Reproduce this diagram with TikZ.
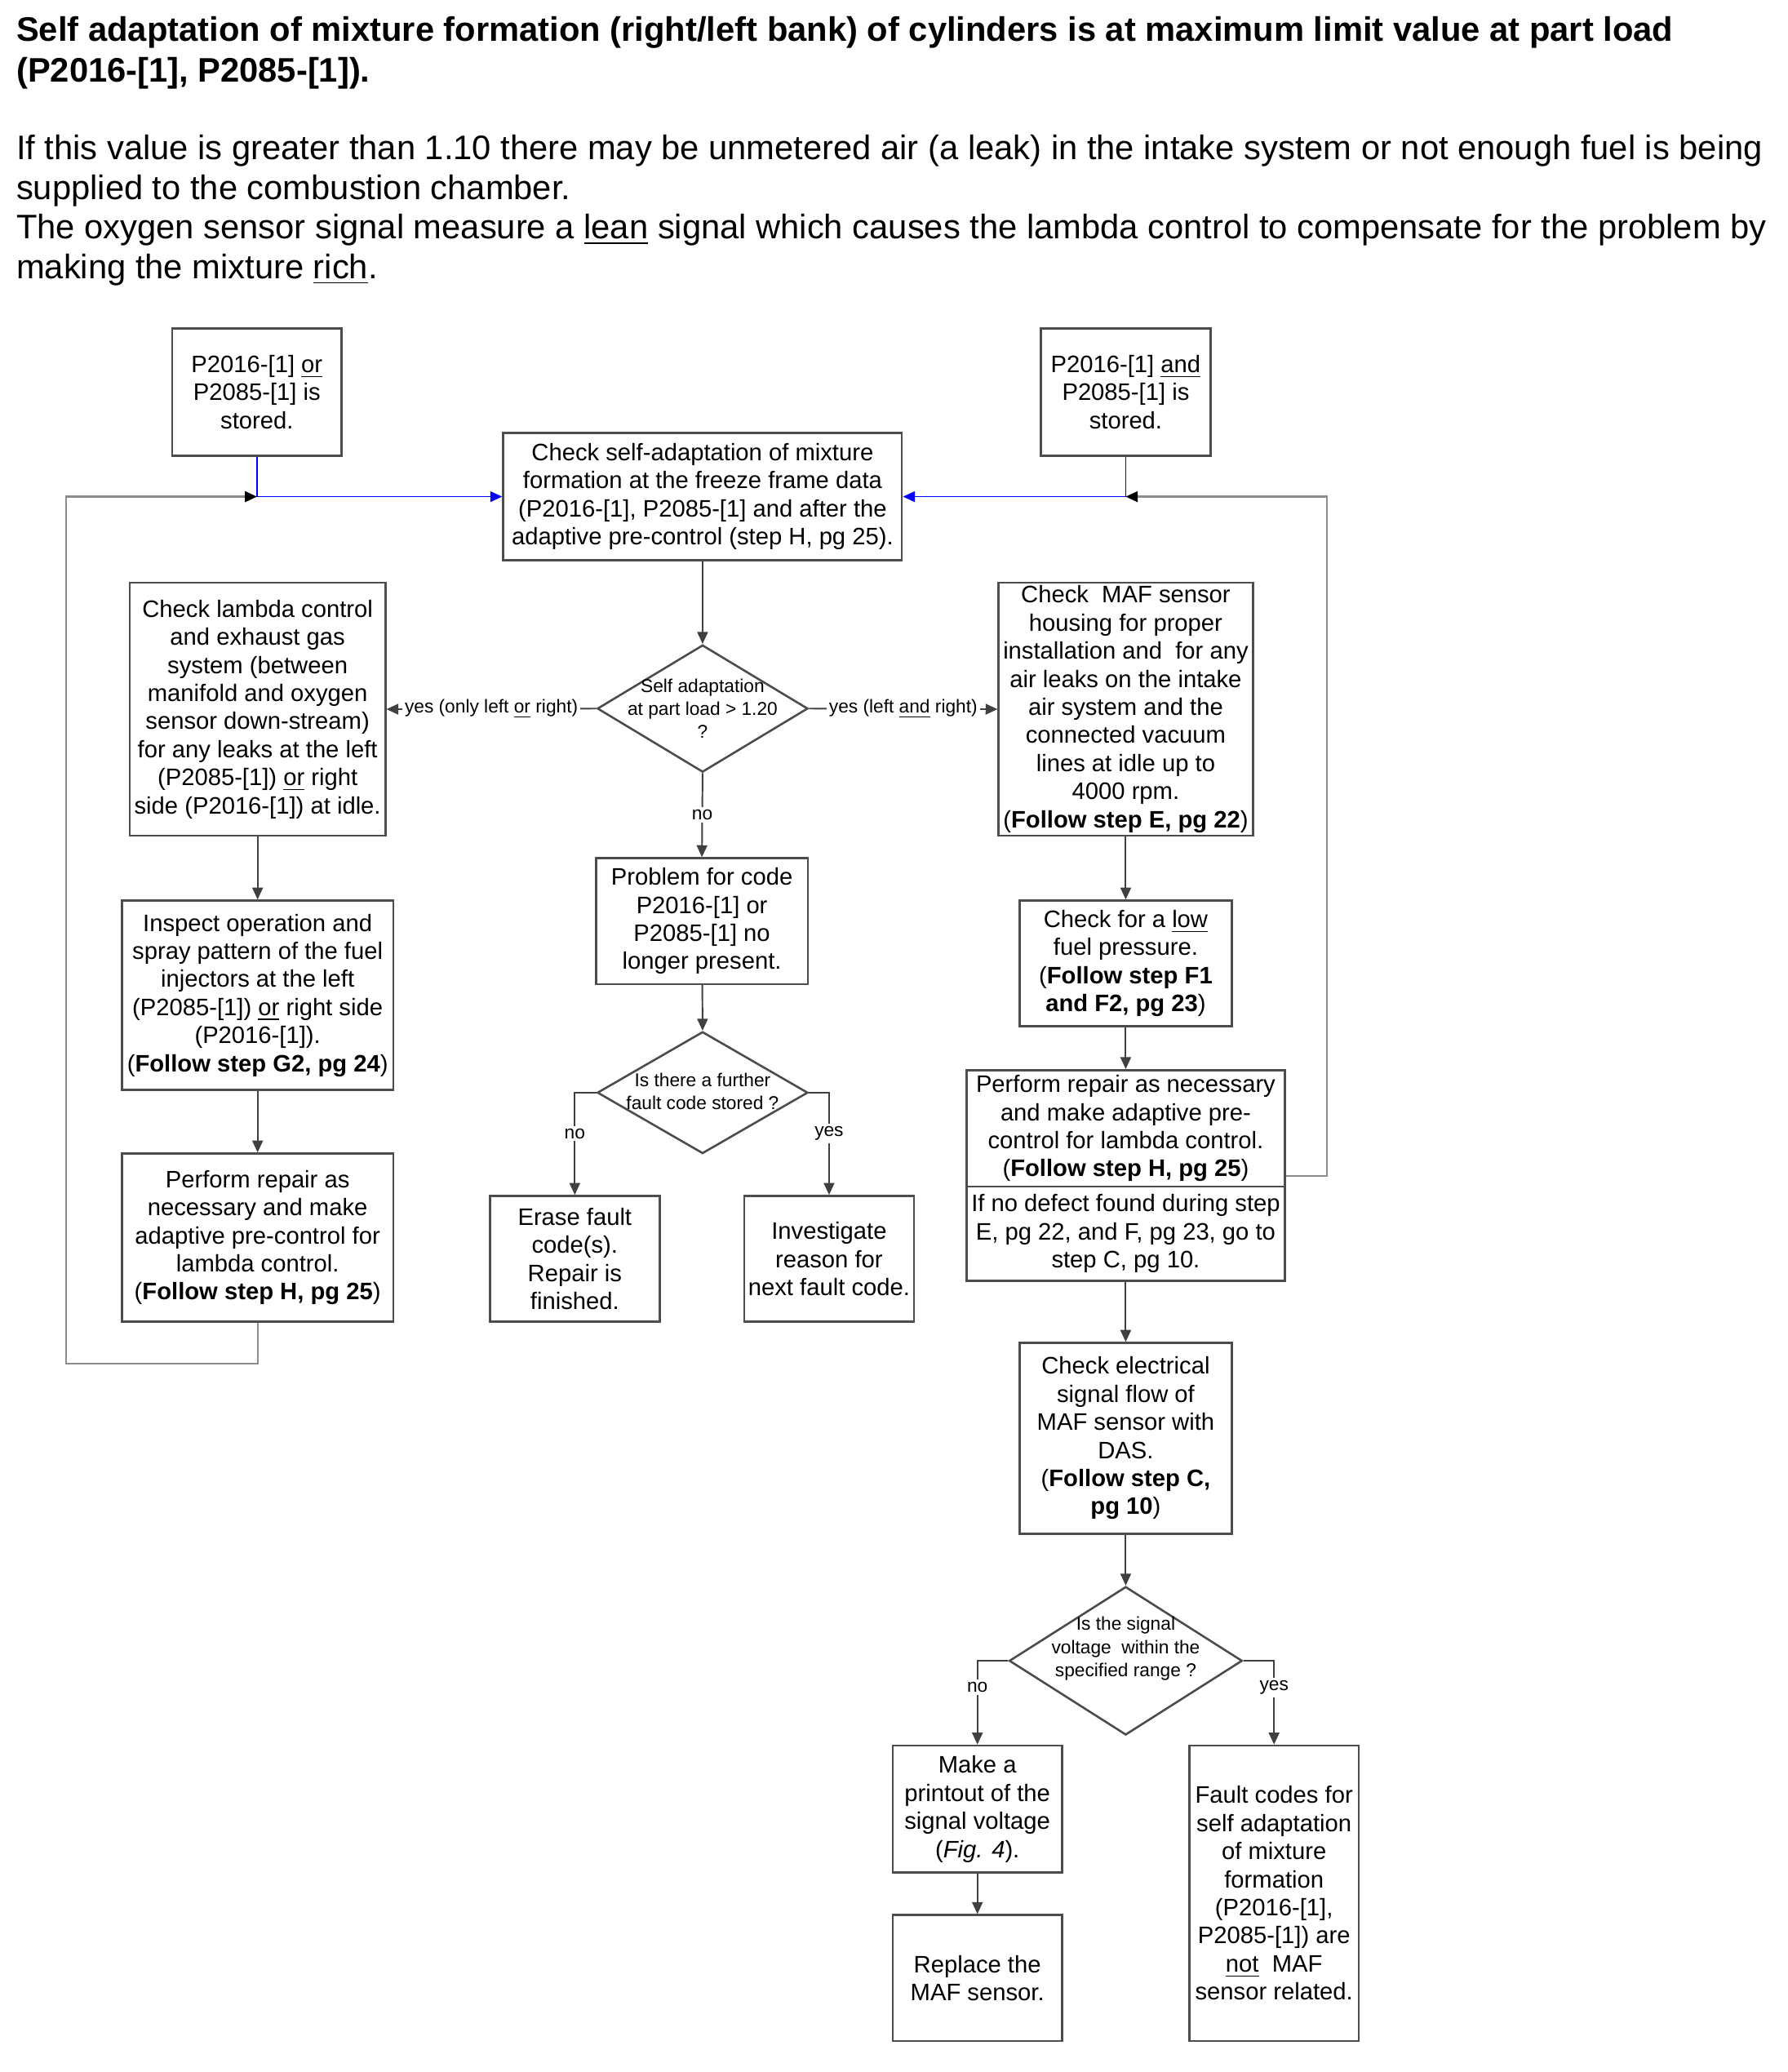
\documentclass[tikz,border=0pt]{standalone}
\usepackage{fontspec}
\setmainfont{Liberation Sans}
\usetikzlibrary{arrows.meta,shapes.geometric,positioning,calc}

\tikzset{
  box/.style={draw=black!70, line width=0.8pt, align=center, inner sep=1pt, font=\fontsize{9}{10.6}\selectfont},
  smallbox/.style={box, minimum width=64pt, minimum height=48pt},
  midbox/.style={box, minimum width=80pt, minimum height=47.5pt},
  decision/.style={draw=black!70, line width=0.8pt, shape=diamond, inner sep=0pt},
  dtext/.style={align=center, inner sep=0pt, font=\fontsize{7}{8.75}\selectfont},
  line/.style={draw=black!75, line width=0.6pt},
  arrow/.style={line, -{Triangle[length=4.5pt,width=4pt]}},
  loopline/.style={draw=black!45, line width=0.7pt, -{Triangle[length=4.5pt,width=4pt,color=black]}},
  blueline/.style={draw=blue, line width=0.5pt},
  lbl/.style={fill=white, inner sep=1pt, font=\fontsize{7}{8}\selectfont},
}

\begin{document}
\begin{tikzpicture}[x=0.5pt,y=-0.5pt]
  \useasboundingbox (0,0) rectangle (1350,1564.5);

  % heading and explanation
  \node[anchor=north west, align=left, inner sep=0pt, font=\fontsize{12.85}{15.5}\selectfont\bfseries] (title) at (12,12)
    {Self adaptation of mixture formation (right/left bank) of cylinders is at maximum limit value at part load\\(P2016-[1], P2085-[1]).};
  \node[anchor=north west, align=left, inner sep=0pt, font=\fontsize{12.85}{15}\selectfont] (intro) at (12,101.5)
    {If this value is greater than 1.10 there may be unmetered air (a leak) in the intake system or not enough fuel is being\\
     supplied to the combustion chamber.\\
     The oxygen sensor signal measure a \underline{lean} signal which causes the lambda control to compensate for the problem by\\
     making the mixture \underline{rich}.};

  % start boxes
  \node[smallbox] (s1) at (194,296) {P2016-[1] \underline{or}\\P2085-[1] is\\stored.};
  \node[smallbox] (s2) at (850,296) {P2016-[1] \underline{and}\\P2085-[1] is\\stored.};
  \node[box, minimum width=150.5pt, minimum height=48pt] (check) at (530.5,375)
    {Check self-adaptation of mixture\\formation at the freeze frame data\\(P2016-[1], P2085-[1] and after the\\adaptive pre-control (step H, pg 25).};
  \coordinate (j1) at (194,375);
  \coordinate (j2) at (850,375);
  \coordinate (loopL) at (50,375);
  \coordinate (loopR) at (1002,375);

  % first decision
  \node[decision, minimum width=79.5pt, minimum height=48pt] (d1) at (530.5,535) {};
  \node[dtext] (d1t) at (530.5,535) {Self adaptation\\at part load > 1.20\\?};

  % left branch
  \node[box, minimum width=96.5pt, minimum height=95.5pt] (left1) at (194.5,535.5)
    {Check lambda control\\and exhaust gas\\system (between\\manifold and oxygen\\sensor down-stream)\\for any leaks at the left\\(P2085-[1]) \underline{or} right\\side (P2016-[1]) at idle.};
  \node[box, minimum width=102.5pt, minimum height=71.5pt] (left2) at (194.5,751.5)
    {Inspect operation and\\spray pattern of the fuel\\injectors at the left\\(P2085-[1]) \underline{or} right side\\(P2016-[1]).\\(\textbf{Follow step G2, pg 24})};
  \node[box, minimum width=102.5pt, minimum height=63.5pt] (left3) at (194.5,934.5)
    {Perform repair as\\necessary and make\\adaptive pre-control for\\lambda control.\\(\textbf{Follow step H, pg 25})};

  % middle branch
  \node[midbox] (prob) at (530,695.5) {Problem for code\\P2016-[1] or\\P2085-[1] no\\longer present.};
  \node[decision, minimum width=79.5pt, minimum height=46pt] (d2) at (530.5,825) {};
  \node[dtext] (d2t) at (530.5,824) {Is there a further\\fault code stored ?};
  \node[smallbox, minimum height=47.5pt] (erase) at (434,950.5) {Erase fault\\code(s).\\Repair is\\finished.};
  \node[smallbox, minimum height=47.5pt] (invest) at (626,950.5) {Investigate\\reason for\\next fault code.};

  % right branch
  \node[box, minimum width=96pt, minimum height=95.5pt, inner sep=0pt] (right1) at (850,535.5)
    {Check\ \ MAF sensor\\housing for proper\\installation and\ \ for any\\air leaks on the intake\\air system and the\\connected vacuum\\lines at idle up to\\4000 rpm.\\(\textbf{Follow step E, pg 22})};
  \node[midbox] (right2) at (850,727.5) {Check for a \underline{low}\\fuel pressure.\\(\textbf{Follow step F1}\\\textbf{and F2, pg 23})};
  \node[box, minimum width=120pt, minimum height=44pt] (right3) at (850,852)
    {Perform repair as necessary\\and make adaptive pre-\\control for lambda control.\\(\textbf{Follow step H, pg 25})};
  \node[box, minimum width=120pt, minimum height=35.5pt] (right4) at (850,931.5)
    {If no defect found during step\\E, pg 22, and F, pg 23, go to\\step C, pg 10.};
  \node[box, minimum width=80pt, minimum height=72pt] (right5) at (850,1086)
    {Check electrical\\signal flow of\\MAF sensor with\\DAS.\\(\textbf{Follow step C,}\\\textbf{pg 10})};
  \node[decision, minimum width=88pt, minimum height=56pt] (d3) at (850,1254) {};
  \node[dtext] (d3t) at (850,1245) {Is the signal\\voltage\ \ within the\\specified range ?};
  \node[smallbox] (print) at (738,1366) {Make a\\printout of the\\signal voltage\\(\textit{Fig. 4}).};
  \node[smallbox, minimum height=47.5pt] (replace) at (738,1493.5) {Replace the\\MAF sensor.};
  \node[box, minimum width=64pt, minimum height=111.5pt] (notmaf) at (962,1429.5)
    {Fault codes for\\self adaptation\\of mixture\\formation\\(P2016-[1],\\P2085-[1]) are\\\underline{not}\ \ MAF\\sensor related.};

  % entry connectors
  \draw[blueline] (s1.south) -- (j1);
  \draw[blueline, -{Triangle[length=4.5pt,width=4pt]}] (j1) -- (check.west);
  \draw[blueline] (s2.south) -- (j2);
  \draw[blueline, -{Triangle[length=4.5pt,width=4pt]}] (j2) -- (check.east);

  % return loops
  \draw[loopline] (left3.south) -- ++(0,31) -| (loopL) -- (j1);
  \draw[loopline] ([yshift=4.5pt]right3.south east) -| (loopR) -- (j2);

  % flow
  \draw[arrow] (check.south) -- (d1.north);
  \draw[arrow] (d1.west) -- node[lbl] {yes (only left \underline{or} right)} (left1.east);
  \draw[arrow] (d1.east) -- node[lbl] {yes (left \underline{and} right)} (right1.west);
  \draw[arrow] (d1.south) -- node[lbl] {no} (prob.north);
  \draw[arrow] (left1) -- (left2);
  \draw[arrow] (left2) -- (left3);
  \draw[arrow] (prob) -- (d2.north);
  \draw[arrow] (d2.west) -| node[lbl, pos=0.7] {no} (erase.north);
  \draw[arrow] (d2.east) -| node[lbl, pos=0.7] {yes} (invest.north);
  \draw[arrow] (right1) -- (right2);
  \draw[arrow] (right2) -- (right3);
  \draw[arrow] (right4) -- (right5);
  \draw[arrow] (right5) -- (d3.north);
  \draw[arrow] (d3.west) -| node[lbl, pos=0.66] {no} (print.north);
  \draw[arrow] (d3.east) -| node[lbl, pos=0.66] {yes} (notmaf.north);
  \draw[arrow] (print) -- (replace);
\end{tikzpicture}
\end{document}
